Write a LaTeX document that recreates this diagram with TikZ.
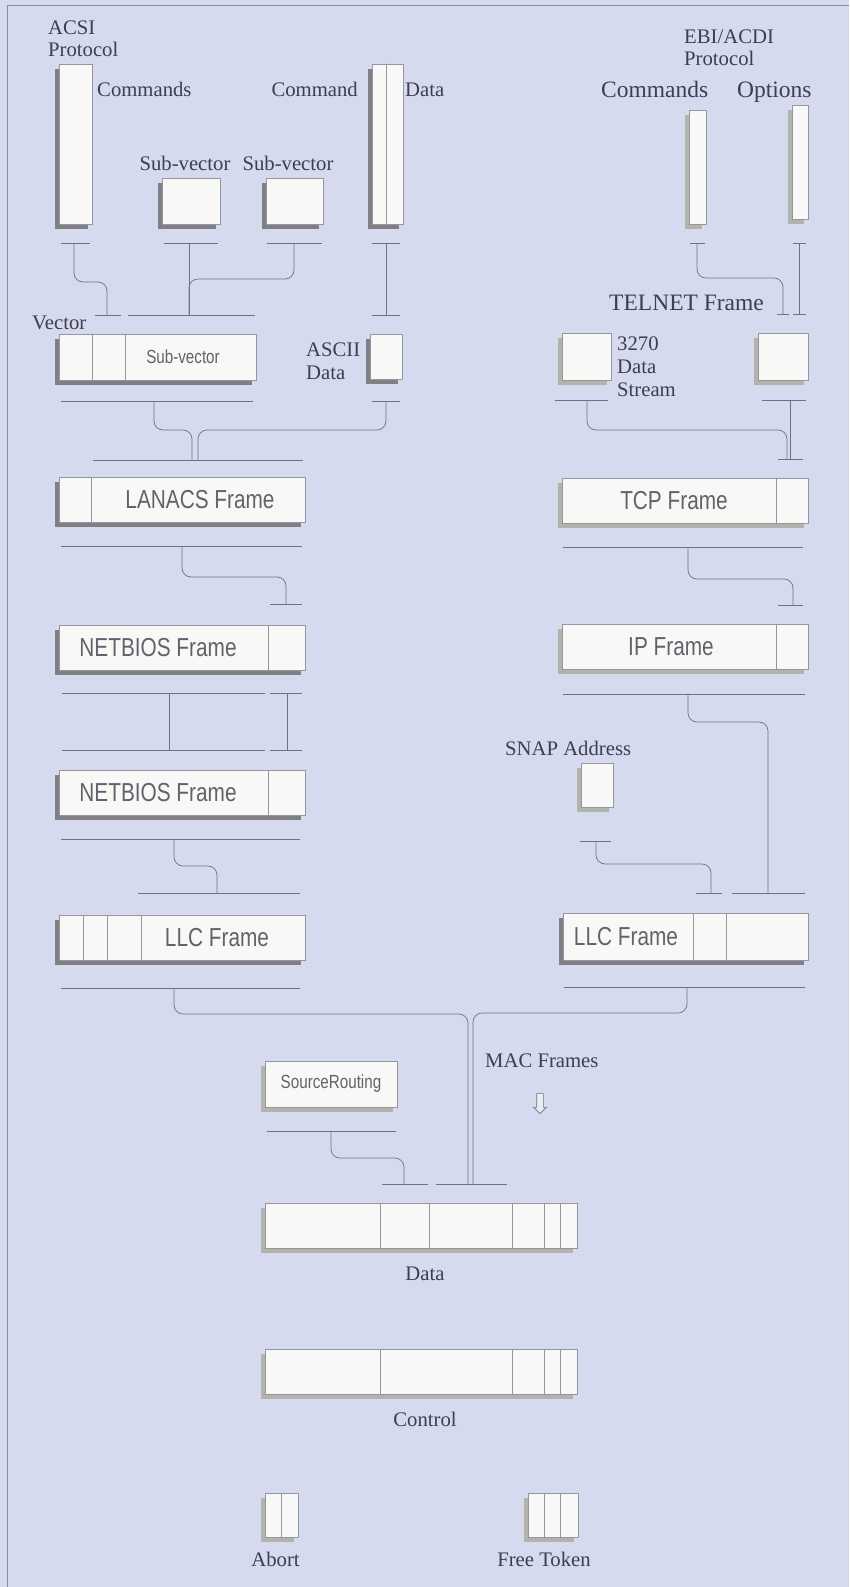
\documentclass[tikz,border=0pt]{standalone}
\usepackage{fontspec}
\setmainfont{Liberation Serif}
\newfontfamily\boxfont[FakeStretch=0.8]{Liberation Sans}
\usepackage{tikz}
\usetikzlibrary{shapes,shapes.arrows,shadows,positioning}

\definecolor{bgcol}{RGB}{213,218,238}
\definecolor{boxfill}{RGB}{248,248,246}
\definecolor{boxline}{RGB}{150,150,162}
\definecolor{linecol}{RGB}{112,112,136}
\definecolor{shadowdk}{RGB}{128,128,132}
\definecolor{shadowlt}{RGB}{178,180,172}
\definecolor{txtcol}{RGB}{62,62,78}
\definecolor{boxtxtcol}{RGB}{98,98,108}

\begin{document}
\begin{tikzpicture}[x=1pt, y=-1pt,
    frm/.style={rectangle, draw=boxline, fill=boxfill, line width=0.6pt, inner sep=0pt, outer sep=0pt},
    shdk/.style={general shadow={fill=shadowdk, shadow xshift=-4pt, shadow yshift=-5pt}},
    shlt/.style={general shadow={fill=shadowlt, shadow xshift=-4pt, shadow yshift=-5pt}},
    div/.style={draw=boxline, line width=0.6pt},
    bar/.style={draw=linecol, line width=0.7pt},
    conn/.style={draw=linecol, line width=0.7pt, rounded corners=9pt},
    lbl/.style={font=\fontsize{20.7}{23}\selectfont, text=txtcol, inner sep=0pt},
    biglbl/.style={font=\fontsize{23.5}{26}\selectfont, text=txtcol, inner sep=0pt},
    boxtxt/.style={font=\boxfont\fontsize{26}{28}\selectfont, text=boxtxtcol, inner sep=0pt},
    smalltxt/.style={font=\boxfont\fontsize{19}{21}\selectfont, text=boxtxtcol, inner sep=0pt}]

    \fill[bgcol] (0,0) rectangle (849,1587);
    \useasboundingbox (0,0) rectangle (849,1587);
    \draw[linecol!80, line width=0.9pt] (7,1587) -- (7,5) -- (849,5);

    % ACSI side
    \node[frm, shdk, minimum width=33pt, minimum height=160pt] (acsi) at (75.5,144) {};
    \node[frm, shdk, minimum width=58pt, minimum height=46pt] (subA) at (191,201) {};
    \node[frm, shdk, minimum width=57pt, minimum height=46pt] (subB) at (294.5,201) {};
    \node[frm, shdk, minimum width=31pt, minimum height=160pt] (cmdat) at (387.5,144) {};
    \draw[div] ([xshift=14pt]cmdat.north west) -- ([xshift=14pt]cmdat.south west);
    \node[frm, shdk, minimum width=197pt, minimum height=46pt,
          label={[smalltxt, xshift=25.5pt]center:Sub-vector}] (vec) at (157.5,357) {};
    \foreach \d in {33,66}
        \draw[div] ([xshift=\d pt]vec.north west) -- ([xshift=\d pt]vec.south west);
    \node[frm, shdk, minimum width=32pt, minimum height=45pt] (ascii) at (386,356.5) {};
    \node[frm, shdk, minimum width=246pt, minimum height=45pt,
          label={[boxtxt, xshift=18pt]center:LANACS Frame}] (lanacs) at (182,499.5) {};
    \draw[div] ([xshift=32pt]lanacs.north west) -- ([xshift=32pt]lanacs.south west);
    \node[frm, shdk, minimum width=246pt, minimum height=45pt,
          label={[boxtxt, xshift=-24pt]center:NETBIOS Frame}] (nbA) at (182,647.5) {};
    \draw[div] ([xshift=209pt]nbA.north west) -- ([xshift=209pt]nbA.south west);
    \node[frm, shdk, minimum width=246pt, minimum height=45pt,
          label={[boxtxt, xshift=-24pt]center:NETBIOS Frame}] (nbB) at (182,792.5) {};
    \draw[div] ([xshift=209pt]nbB.north west) -- ([xshift=209pt]nbB.south west);
    \node[frm, shdk, minimum width=246pt, minimum height=45pt,
          label={[boxtxt, xshift=35pt]center:LLC Frame}] (llcL) at (182,937.5) {};
    \foreach \d in {24,48,82}
        \draw[div] ([xshift=\d pt]llcL.north west) -- ([xshift=\d pt]llcL.south west);

    % EBI/ACDI side
    \node[frm, shlt, minimum width=17pt, minimum height=114pt] (ecmd) at (697.5,167) {};
    \node[frm, shlt, minimum width=16pt, minimum height=114pt] (eopt) at (800,162) {};
    \node[frm, shlt, minimum width=49pt, minimum height=47pt] (dstr) at (586.5,356.5) {};
    \node[frm, shlt, minimum width=50pt, minimum height=47pt] (telnet) at (783,356.5) {};
    \node[frm, shlt, minimum width=246pt, minimum height=45pt,
          label={[boxtxt, xshift=-11pt]center:TCP Frame}] (tcp) at (685,500.5) {};
    \draw[div] ([xshift=214pt]tcp.north west) -- ([xshift=214pt]tcp.south west);
    \node[frm, shlt, minimum width=246pt, minimum height=45pt,
          label={[boxtxt, xshift=-14pt]center:IP Frame}] (ip) at (685,646.5) {};
    \draw[div] ([xshift=214pt]ip.north west) -- ([xshift=214pt]ip.south west);
    \node[frm, shlt, minimum width=32pt, minimum height=44pt] (snap) at (597,785) {};
    \node[frm, shdk, minimum width=245pt, minimum height=47pt,
          label={[boxtxt, xshift=-59.5pt]center:LLC Frame}] (llcR) at (685.5,936.5) {};
    \foreach \d in {130,163}
        \draw[div] ([xshift=\d pt]llcR.north west) -- ([xshift=\d pt]llcR.south west);

    % MAC level
    \node[frm, shlt, minimum width=132pt, minimum height=46pt,
          label={[smalltxt]center:SourceRouting}] (srcrt) at (331,1084) {};
    \node[frm, shlt, minimum width=312pt, minimum height=45pt] (data) at (421,1225.5) {};
    \foreach \d in {115,164,247,279,295}
        \draw[div] ([xshift=\d pt]data.north west) -- ([xshift=\d pt]data.south west);
    \node[frm, shlt, minimum width=312pt, minimum height=45pt] (ctrl) at (421,1371.5) {};
    \foreach \d in {115,247,279,295}
        \draw[div] ([xshift=\d pt]ctrl.north west) -- ([xshift=\d pt]ctrl.south west);
    \node[frm, shlt, minimum width=33pt, minimum height=44pt] (abort) at (281.5,1515) {};
    \draw[div] ([xshift=16pt]abort.north west) -- ([xshift=16pt]abort.south west);
    \node[frm, shlt, minimum width=50pt, minimum height=44pt] (ftok) at (553,1515) {};
    \foreach \d in {16,32}
        \draw[div] ([xshift=\d pt]ftok.north west) -- ([xshift=\d pt]ftok.south west);
    \node[single arrow, draw=linecol, fill=boxfill!60!bgcol, shape border rotate=270,
          minimum height=20pt, inner sep=3pt, single arrow head extend=3pt,
          line width=0.6pt] (macArr) at (540,1102) {};

    % labels
    \node[lbl, anchor=base west] (acsiL) at (48,35) {ACSI};
    \node[lbl, anchor=base west] (acsiP) at ([yshift=-22pt]acsiL.base west) {Protocol};
    \node[lbl, anchor=base west] (cmdsL) at (97,96) {Commands};
    \node[lbl, anchor=base east] (cmdL) at (358,96) {Command};
    \node[lbl, anchor=base west] (datL) at (405,96) {Data};
    \node[lbl, anchor=base] (subAL) at (185,170) {Sub-vector};
    \node[lbl, anchor=base] (subBL) at (288,170) {Sub-vector};
    \node[lbl, anchor=base west] (vecL) at (32,329) {Vector};
    \node[lbl, anchor=base west] (ascL) at (306,356) {ASCII};
    \node[lbl, anchor=base west] (ascD) at ([yshift=-23pt]ascL.base west) {Data};
    \node[lbl, anchor=base west] (ebiL) at (684,44) {EBI/ACDI};
    \node[lbl, anchor=base west] (ebiP) at ([yshift=-22pt]ebiL.base west) {Protocol};
    \node[biglbl, anchor=base west] (ecmdL) at (601,97) {Commands};
    \node[biglbl, anchor=base west] (eoptL) at (737,97) {Options};
    \node[biglbl, anchor=base west] (telL) at (609,310) {TELNET Frame};
    \node[lbl, anchor=base west] (dsA) at (617,350) {3270};
    \node[lbl, anchor=base west] (dsB) at ([yshift=-23pt]dsA.base west) {Data};
    \node[lbl, anchor=base west] (dsC) at ([yshift=-23pt]dsB.base west) {Stream};
    \node[lbl, anchor=base west] (snapL) at (505,755) {SNAP Address};
    \node[lbl, anchor=base west] (macL) at (485,1067) {MAC Frames};
    \node[lbl, below=19pt of data, xshift=4pt] (dataL) {Data};
    \node[lbl, below=18pt of ctrl, xshift=4pt] (ctrlL) {Control};
    \node[lbl, below=15pt of abort, xshift=-6pt] (abortL) {Abort};
    \node[lbl, below=15pt of ftok, xshift=-9pt] (ftokL) {Free Token};

    % bus bars
    \foreach \y/\xa/\xb in {243/61/90, 243/164/218, 243/267/322, 243/372/400,
        315/95/121, 315/128/255, 315/372/400, 401/61/253, 401/372/400,
        460/93/303, 546/61/302, 604/270/302, 693/62/265, 693/270/302,
        750/62/265, 750/270/302, 839/61/300, 893/138/300, 988/61/300,
        243/690/705, 243/793/806, 314/777/789, 314/793/806, 400/555/608,
        400/762/806, 459/778/803, 547/563/803, 605/778/803, 694/563/805,
        841/580/611, 893/696/722, 893/732/805, 987/564/805,
        1131/267/396, 1184/382/428, 1184/436/507}
        \draw[bar] (\xa,\y) -- (\xb,\y);

    \coordinate (acsiT) at (74,243);   \coordinate (vecT1) at (107,315);
    \coordinate (subAT) at (189,243);  \coordinate (vecT2) at (189,315);
    \coordinate (subBT) at (294,243);
    \coordinate (cmdT) at (386,243);   \coordinate (ascT) at (386,315);
    \coordinate (vecB) at (154,401);   \coordinate (lanT1) at (192,460);
    \coordinate (ascB) at (386,401);   \coordinate (lanT2) at (198,460);
    \coordinate (lanB) at (182,546);   \coordinate (nbAT) at (286,604);
    \coordinate (nbAB1) at (169,693);  \coordinate (nbBT1) at (169,750);
    \coordinate (nbAB2) at (287,693);  \coordinate (nbBT2) at (287,750);
    \coordinate (nbBB) at (174,839);   \coordinate (llcLT) at (217,893);
    \coordinate (llcLB) at (174,988);  \coordinate (dataT1) at (468,1184);
    \coordinate (ecmdB) at (697,243);  \coordinate (telT1) at (783,314);
    \coordinate (eoptB) at (799,243);  \coordinate (telT2) at (799,314);
    \coordinate (dstrB) at (587,400);  \coordinate (tcpT1) at (787,459);
    \coordinate (telB) at (790,400);   \coordinate (tcpT2) at (790,459);
    \coordinate (tcpB) at (688,547);   \coordinate (ipT) at (793,605);
    \coordinate (ipB) at (688,694);    \coordinate (llcRT2) at (768,893);
    \coordinate (snapB) at (596,841);  \coordinate (llcRT1) at (711,893);
    \coordinate (llcRB) at (687,987);  \coordinate (dataT2) at (473,1184);
    \coordinate (srcB) at (331,1131);  \coordinate (dataT0) at (404,1184);

    \draw[conn] (acsiT) -- ++(0,39) -| (vecT1);
    \draw[conn] (subAT) -- (vecT2);
    \draw[conn] (subBT) -- ++(0,36) -| (vecT2);
    \draw[conn] (cmdT) -- (ascT);
    \draw[conn] (vecB) -- ++(0,29) -| (lanT1);
    \draw[conn] (ascB) -- ++(0,29) -| (lanT2);
    \draw[conn] (lanB) -- ++(0,31) -| (nbAT);
    \draw[conn] (nbAB1) -- (nbBT1);
    \draw[conn] (nbAB2) -- (nbBT2);
    \draw[conn] (nbBB) -- ++(0,27) -| (llcLT);
    \draw[conn] (llcLB) -- ++(0,26) -| (dataT1);
    \draw[conn] (ecmdB) -- ++(0,35) -| (telT1);
    \draw[conn] (eoptB) -- (telT2);
    \draw[conn] (dstrB) -- ++(0,30) -| (tcpT1);
    \draw[conn] (telB) -- (tcpT2);
    \draw[conn] (tcpB) -- ++(0,32) -| (ipT);
    \draw[conn] (ipB) -- ++(0,28) -| (llcRT2);
    \draw[conn] (snapB) -- ++(0,23) -| (llcRT1);
    \draw[conn] (llcRB) -- ++(0,26) -| (dataT2);
    \draw[conn] (srcB) -- ++(0,27) -| (dataT0);
\end{tikzpicture}
\end{document}
